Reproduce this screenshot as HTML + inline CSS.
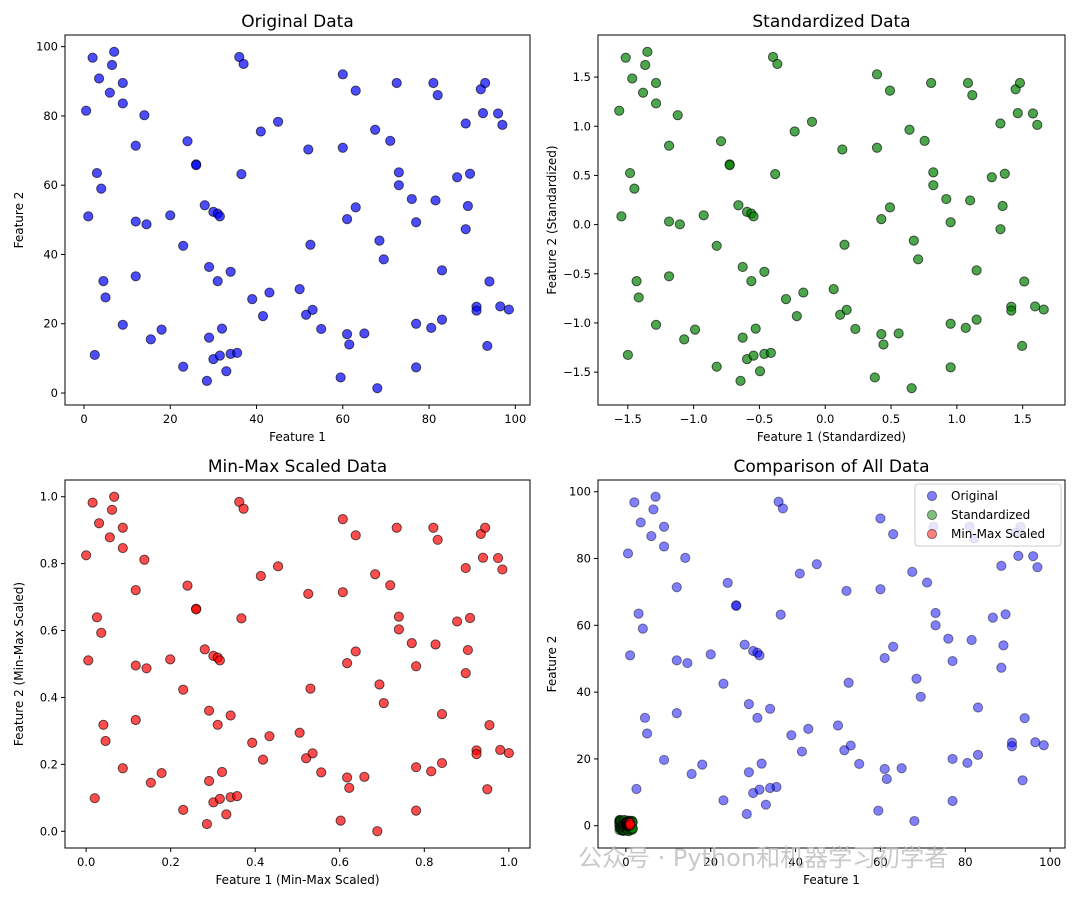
<!DOCTYPE html>
<html><head><meta charset="utf-8"><style>
body{margin:0;background:#fff;}
svg text{font-family:"DejaVu Sans","Liberation Sans","Noto Sans CJK SC",sans-serif;}
</style></head><body>
<svg id="chart" width="1080" height="900" xmlns="http://www.w3.org/2000/svg"></svg>
<script>
const featureX = [0.5,2,1,2.5,3,3.5,4,4.5,5,6,6.5,7,9,9,9,12,12,12,14,14.5,15.5,18,20,23,23,24,26,26,28,28.5,29,29,30,30,31,31,31.5,31.5,32,33,34,34,35.5,36,36.5,37,39,41,41.5,43,45,50,51.5,52,52.5,53,55,59.5,60,60,61,61,61.5,63,63,65,67.5,68,68.5,69.5,71,72.5,73,73,76,77,77,77,80.5,81,81.5,82,83,83,86.5,88.5,88.5,89,89.5,91,91,92,92.5,93,93.5,94,96,96.5,97,98.5];
const featureY = [81.5,96.8,51,11,63.5,90.8,59,32.3,27.6,86.7,94.7,98.5,89.5,83.6,19.7,71.4,49.5,33.7,80.2,48.7,15.5,18.3,51.3,42.5,7.6,72.7,66,65.8,54.2,3.5,36.4,16,52.3,9.8,51.8,32.3,51,10.8,18.6,6.3,11.3,35,11.6,97,63.2,95,27.1,75.5,22.2,29,78.3,30,22.6,70.3,42.8,24,18.5,4.5,92,70.8,50.2,17,14,53.6,87.3,17.2,76,1.4,44,38.6,72.8,89.5,63.7,60,56,49.3,20,7.4,18.8,89.5,55.6,86,35.4,21.2,62.3,77.8,47.3,54,63.3,24.9,23.8,87.7,80.8,89.5,13.6,32.2,80.7,25,77.4,24.1];
const panelTitles = ["Original Data","Standardized Data","Min-Max Scaled Data","Comparison of All Data"];
const legendLabels = ["Original","Standardized","Min-Max Scaled"];

const NS="http://www.w3.org/2000/svg";
const svg=document.getElementById('chart');
function mk(tag,attrs,parent){const e=document.createElementNS(NS,tag);for(const k in attrs)e.setAttribute(k,attrs[k]);(parent||svg).appendChild(e);return e;}
function mean(a){return a.reduce((s,v)=>s+v,0)/a.length;}
function std(a){const m=mean(a);return Math.sqrt(a.reduce((s,v)=>s+(v-m)*(v-m),0)/a.length);}
function standardize(a){const m=mean(a),s=std(a);return a.map(v=>(v-m)/s);}
function minmax(a){const lo=Math.min(...a),hi=Math.max(...a);return a.map(v=>(v-lo)/(hi-lo));}
const sx=standardize(featureX), sy=standardize(featureY);
const mx=minmax(featureX), my=minmax(featureY);
function fmt(v,step){const d=step<1?(step<0.5?1:1):0;let s=(step<1?v.toFixed(1):v.toFixed(0));if(s==="-0.0")s="0.0";return s.replace('-','\u2212');}

function panel(box,series,title,xlab,ylab,tickStep,legend){
  const all=series.flatMap(s=>s.x), allY=series.flatMap(s=>s.y);
  let x0=Math.min(...all),x1=Math.max(...all),y0=Math.min(...allY),y1=Math.max(...allY);
  const px=(x1-x0)*0.05,py=(y1-y0)*0.05;x0-=px;x1+=px;y0-=py;y1+=py;
  const X=v=>box.l+(v-x0)/(x1-x0)*box.w, Y=v=>box.t+box.h-(v-y0)/(y1-y0)*box.h;
  const g=mk('g',{});
  
  
  const t=mk('text',{x:box.l+box.w/2,y:box.t-8,'text-anchor':'middle','font-size':17,fill:'#000'},g);t.textContent=title;
  
  for(let v=Math.ceil(x0/tickStep)*tickStep;v<=x1+1e-9;v+=tickStep){
    const xx=X(v);mk('line',{x1:xx,x2:xx,y1:box.t+box.h,y2:box.t+box.h+4,stroke:'#000'},g);
    const tl=mk('text',{x:xx,y:box.t+box.h+18,'text-anchor':'middle','font-size':11.5},g);tl.textContent=fmt(v,tickStep);
    
  }
  for(let v=Math.ceil(y0/tickStep)*tickStep;v<=y1+1e-9;v+=tickStep){
    const yy=Y(v);mk('line',{x1:box.l-4,x2:box.l,y1:yy,y2:yy,stroke:'#000'},g);
    const tl=mk('text',{x:box.l-7,y:yy+4,'text-anchor':'end','font-size':11.5},g);tl.textContent=fmt(v,tickStep);
    
  }
  const xl=mk('text',{x:box.l+box.w/2,y:box.t+box.h+36,'text-anchor':'middle','font-size':12},g);xl.textContent=xlab;
  
  const cy=box.t+box.h/2, cx=box.l-42;
  const yl=mk('text',{x:cx,y:cy,'text-anchor':'middle','font-size':12,transform:`rotate(-90 ${cx} ${cy})`},g);yl.textContent=ylab;
  
  series.forEach(s=>{
    s.x.forEach((v,i)=>{
      const c=mk('circle',{cx:X(v),cy:Y(s.y[i]),r:4.6,fill:s.color,'fill-opacity':s.alpha,stroke:'#000','stroke-opacity':s.alpha*0.9,'stroke-width':1},g);
      
    });
  });
  mk('rect',{x:box.l,y:box.t,width:box.w,height:box.h,fill:'none',stroke:'#000','stroke-width':1},g);
  if(legend){
    const lx=box.l+box.w-150,ly=box.t+4;
    const lg=mk('g',{},g);
    mk('rect',{x:lx,y:ly,width:146,height:62,fill:'#fff','fill-opacity':0.8,stroke:'#ccc',rx:3},lg);
    series.forEach((s,i)=>{
      const e=mk('g',{},lg);
      mk('circle',{cx:lx+17,cy:ly+12+i*19,r:4.6,fill:s.color,'fill-opacity':s.alpha,stroke:'#000','stroke-opacity':0.45},e);
      const tt=mk('text',{x:lx+36,y:ly+16+i*19,'font-size':12},e);tt.textContent=legendLabels[i];
    });
  }
}
const B1={l:65,t:35,w:465,h:370},B2={l:598,t:35,w:467,h:370},B3={l:65,t:480,w:465,h:368},B4={l:598,t:480,w:467,h:368};
panel(B1,[{x:featureX,y:featureY,color:'#0000ff',alpha:0.7}],panelTitles[0],'Feature 1','Feature 2',20);
panel(B2,[{x:sx,y:sy,color:'#008000',alpha:0.7}],panelTitles[1],'Feature 1 (Standardized)','Feature 2 (Standardized)',0.5);
panel(B3,[{x:mx,y:my,color:'#ff0000',alpha:0.7}],panelTitles[2],'Feature 1 (Min-Max Scaled)','Feature 2 (Min-Max Scaled)',0.2);
panel(B4,[{x:featureX,y:featureY,color:'#0000ff',alpha:0.5},{x:sx,y:sy,color:'#008000',alpha:0.5},{x:mx,y:my,color:'#ff0000',alpha:0.5}],panelTitles[3],'Feature 1','Feature 2',20,true);
const wm=mk('text',{x:578,y:866,'font-size':24,fill:'#bbb','fill-opacity':0.8});wm.textContent='公众号 · Python和机器学习初学者';

</script>
</body></html>
